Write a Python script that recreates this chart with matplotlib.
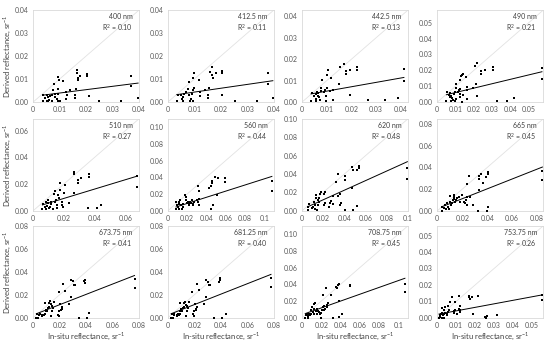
import numpy as np
import matplotlib
matplotlib.use("Agg")
import matplotlib.pyplot as plt
from matplotlib.ticker import FuncFormatter

plt.rcParams['font.family'] = ['Lato', 'DejaVu Sans']
plt.rcParams['mathtext.fontset'] = 'custom'
plt.rcParams['mathtext.rm'] = 'Lato'

# in-situ (x) vs derived (y) reflectance per band, sr^-1
x400 = [0.0036, 0.0038, 0.0044, 0.0051, 0.0051, 0.0057, 0.0057, 0.0061, 0.0063, 0.007, 0.007,
        0.0076, 0.0079, 0.0083, 0.0083, 0.0089, 0.0095, 0.0095, 0.0095, 0.0095, 0.0099, 0.0102,
        0.0114, 0.0123, 0.0124, 0.0127, 0.014, 0.0159, 0.0159, 0.0163, 0.0165, 0.0165, 0.0169,
        0.0171, 0.0178, 0.0203, 0.0203, 0.021, 0.0248, 0.0333, 0.0368, 0.0368, 0.0396]
y400 = [0.0007, 0.0029, 0.0019, 0.0029, 0.0007, 0.0022, 0.0003, 0.001, 0.0025, 0.0007, 0.0033,
        0.0051, 0.008, 0.0036, 0.0022, 0.0015, 0.0109, 0.0058, 0.0036, 0.0007, 0.0095, 0.0007,
        0.0092, 0.0044, 0.0015, 0.0029, 0.0051, 0.0029, 0.0019, 0.0058, 0.0138, 0.0127, 0.0106,
        0.0097, 0.0112, 0.0121, 0.0112, 0.0026, 0.0007, 0.0007, 0.0115, 0.007, 0.0017]

x412 = [0.0034, 0.0038, 0.005, 0.0054, 0.0056, 0.0063, 0.0059, 0.0069, 0.0075, 0.0079, 0.0081,
        0.0084, 0.0088, 0.0091, 0.0094, 0.0096, 0.0098, 0.0096, 0.0098, 0.0116, 0.0123, 0.0123,
        0.0141, 0.015, 0.0151, 0.0156, 0.0159, 0.0166, 0.0166, 0.0169, 0.0181, 0.0206, 0.0206,
        0.0206, 0.0254, 0.0338, 0.0379, 0.0379, 0.0396]
y412 = [0.0007, 0.0029, 0.0029, 0.0014, 0.0007, 0.0036, 0.0022, 0.0043, 0.0058, 0.0087, 0.0029,
        0.0007, 0.0014, 0.0036, 0.0007, 0.0053, 0.0062, 0.0105, 0.0126, 0.0098, 0.0043, 0.0025,
        0.0053, 0.0029, 0.0019, 0.0062, 0.0133, 0.0152, 0.0116, 0.0105, 0.0126, 0.0134, 0.0126,
        0.0029, 0.0007, 0.0007, 0.0127, 0.0079, 0.0019]

x442 = [0.0037, 0.004, 0.005, 0.0057, 0.0057, 0.0061, 0.0057, 0.0063, 0.0067, 0.007, 0.0073,
        0.0077, 0.0077, 0.0083, 0.009, 0.0092, 0.0096, 0.01, 0.0096, 0.01, 0.0106, 0.0114,
        0.0119, 0.0127, 0.0127, 0.0149, 0.0153, 0.0172, 0.018, 0.018, 0.0195, 0.0195, 0.0222,
        0.0222, 0.0268, 0.0338, 0.0388, 0.0413, 0.0413]
y442 = [0.0005, 0.0042, 0.0031, 0.0038, 0.0015, 0.0046, 0.0005, 0.0031, 0.0042, 0.0023, 0.0008,
        0.0066, 0.0051, 0.0103, 0.0046, 0.0057, 0.0031, 0.0065, 0.0005, 0.0128, 0.0151, 0.0051,
        0.0115, 0.0057, 0.0011, 0.0085, 0.0162, 0.018, 0.0146, 0.0131, 0.0034, 0.0151, 0.0162,
        0.0149, 0.0008, 0.0008, 0.0018, 0.0157, 0.01]

x490 = [0.005, 0.0054, 0.0065, 0.0068, 0.0072, 0.0077, 0.0077, 0.0083, 0.0086, 0.009, 0.0095,
        0.0095, 0.0101, 0.0101, 0.0104, 0.0113, 0.0119, 0.0122, 0.0122, 0.0126, 0.0126, 0.0131,
        0.0137, 0.014, 0.0137, 0.014, 0.0158, 0.0162, 0.0162, 0.0162, 0.0194, 0.0207, 0.0212,
        0.0218, 0.0218, 0.0239, 0.0239, 0.0263, 0.0302, 0.0302, 0.0324, 0.0383, 0.0419, 0.0572,
        0.0572]
y490 = [0.001, 0.0067, 0.0047, 0.0031, 0.0055, 0.0041, 0.001, 0.0027, 0.0014, 0.0051, 0.0067,
        0.001, 0.0088, 0.0112, 0.002, 0.0061, 0.0076, 0.0051, 0.0031, 0.0082, 0.0139, 0.0163,
        0.0173, 0.0178, 0.0004, 0.0047, 0.0157, 0.0096, 0.0076, 0.002, 0.0088, 0.0229, 0.0112,
        0.0245, 0.0041, 0.0198, 0.0178, 0.0204, 0.0224, 0.0204, 0.001, 0.001, 0.0027, 0.0214,
        0.0143]

x510 = [0.0061, 0.0066, 0.0076, 0.0083, 0.0087, 0.0092, 0.0098, 0.0098, 0.0105, 0.0109, 0.0114,
        0.012, 0.0127, 0.0135, 0.0142, 0.0142, 0.0148, 0.0153, 0.0157, 0.0164, 0.017, 0.0175,
        0.0175, 0.0186, 0.0186, 0.0192, 0.0207, 0.0203, 0.0236, 0.0266, 0.0266, 0.0266, 0.0295,
        0.0295, 0.031, 0.0367, 0.0367, 0.036, 0.0415, 0.0443, 0.0675, 0.0675]
y510 = [0.0015, 0.0049, 0.0032, 0.0068, 0.0015, 0.0039, 0.0056, 0.008, 0.002, 0.0032, 0.0049,
        0.0068, 0.0015, 0.0129, 0.0146, 0.0068, 0.0085, 0.0044, 0.002, 0.0117, 0.0098, 0.0207,
        0.0154, 0.0063, 0.0044, 0.0032, 0.0195, 0.0137, 0.0056, 0.0293, 0.0276, 0.0137, 0.0234,
        0.021, 0.0244, 0.0276, 0.0251, 0.002, 0.002, 0.0044, 0.0259, 0.0178]

x560 = [0.0086, 0.0086, 0.0093, 0.0103, 0.0114, 0.0121, 0.0121, 0.0131, 0.0138, 0.0148, 0.0155,
        0.0162, 0.0183, 0.019, 0.019, 0.0197, 0.0207, 0.0217, 0.0224, 0.0231, 0.0241, 0.0252,
        0.0259, 0.0266, 0.0276, 0.031, 0.0321, 0.03, 0.031, 0.0321, 0.0328, 0.0424, 0.0448,
        0.0459, 0.0459, 0.0448, 0.0472, 0.0493, 0.0517, 0.0507, 0.0597, 0.0597, 0.1079, 0.1079]
y560 = [0.0027, 0.0106, 0.0067, 0.0047, 0.0106, 0.0086, 0.002, 0.0125, 0.0067, 0.0027, 0.0047,
        0.0086, 0.0192, 0.0165, 0.0125, 0.0098, 0.0106, 0.0086, 0.0067, 0.0106, 0.0098, 0.0125,
        0.0067, 0.0086, 0.0106, 0.0294, 0.0243, 0.0125, 0.0106, 0.0067, 0.0145, 0.0275, 0.0302,
        0.0333, 0.0357, 0.002, 0.0067, 0.0408, 0.0388, 0.0192, 0.0388, 0.0349, 0.0361, 0.0243]

x620 = [0.0059, 0.0059, 0.0066, 0.0092, 0.0108, 0.0118, 0.0125, 0.0125, 0.0131, 0.0131, 0.0141,
        0.0151, 0.0151, 0.0157, 0.0164, 0.0174, 0.0184, 0.0207, 0.0216, 0.0207, 0.0216, 0.0256,
        0.0262, 0.0272, 0.0289, 0.0295, 0.0321, 0.0341, 0.0338, 0.0354, 0.0354, 0.037, 0.0403,
        0.0403, 0.0403, 0.0469, 0.0479, 0.0472, 0.0479, 0.0518, 0.0534, 0.0534, 0.0518, 0.0993,
        0.0993]
y620 = [0.0011, 0.0047, 0.0072, 0.0029, 0.0047, 0.0101, 0.0065, 0.0022, 0.0137, 0.0173, 0.0011,
        0.0065, 0.0119, 0.0144, 0.0101, 0.018, 0.0201, 0.018, 0.0201, 0.0065, 0.0083, 0.0047,
        0.0083, 0.0108, 0.0165, 0.0072, 0.0317, 0.0399, 0.0165, 0.018, 0.0065, 0.0083, 0.0335,
        0.0381, 0.0011, 0.0478, 0.0442, 0.0252, 0.0011, 0.0442, 0.0468, 0.0489, 0.0058, 0.0468,
        0.0345]

x665 = [0.0039, 0.0039, 0.0053, 0.0066, 0.0074, 0.0079, 0.0084, 0.0092, 0.01, 0.0105, 0.0111,
        0.0118, 0.0126, 0.0132, 0.0132, 0.0137, 0.0145, 0.0153, 0.0158, 0.0171, 0.0184, 0.0197,
        0.0216, 0.0224, 0.0232, 0.0237, 0.0242, 0.0242, 0.0258, 0.0263, 0.0284, 0.0329, 0.0337,
        0.0337, 0.0347, 0.0337, 0.0363, 0.0389, 0.0408, 0.0408, 0.0395, 0.0408, 0.0842, 0.0842]
y665 = [0.0, 0.0039, 0.0024, 0.0054, 0.0018, 0.0069, 0.0039, 0.0018, 0.0137, 0.0084, 0.0054,
        0.0069, 0.0099, 0.0113, 0.0149, 0.0128, 0.0084, 0.0099, 0.0119, 0.0128, 0.0084, 0.0143,
        0.0084, 0.0069, 0.0099, 0.0054, 0.0128, 0.0248, 0.0322, 0.0128, 0.0054, 0.0, 0.0293,
        0.0322, 0.0337, 0.0197, 0.0257, 0.0316, 0.0358, 0.0337, 0.0, 0.0039, 0.0367, 0.0287]

x673 = [0.0025, 0.0033, 0.004, 0.0045, 0.005, 0.007, 0.007, 0.0075, 0.0083, 0.009, 0.009,
        0.0095, 0.01, 0.0108, 0.0115, 0.012, 0.012, 0.0125, 0.0133, 0.0133, 0.014, 0.0145,
        0.015, 0.0158, 0.019, 0.0195, 0.0195, 0.02, 0.0208, 0.0215, 0.022, 0.0195, 0.0225,
        0.024, 0.027, 0.0283, 0.029, 0.03, 0.0308, 0.032, 0.0345, 0.0383, 0.039, 0.039, 0.0408,
        0.0425, 0.0765, 0.0765]
y673 = [0.0, 0.0035, 0.0, 0.0023, 0.0035, 0.0029, 0.0014, 0.0029, 0.0023, 0.0035, 0.013,
        0.0058, 0.0072, 0.0058, 0.0087, 0.0092, 0.013, 0.0144, 0.0116, 0.0014, 0.0058, 0.0101,
        0.0087, 0.0139, 0.0029, 0.0058, 0.0014, 0.0116, 0.0072, 0.0078, 0.0092, 0.0222, 0.0295,
        0.0237, 0.0116, 0.0182, 0.0332, 0.0318, 0.0283, 0.0283, 0.0, 0.0318, 0.0326, 0.0303, 0.0,
        0.0038, 0.0338, 0.026]

x681 = [0.0025, 0.0032, 0.0038, 0.0045, 0.005, 0.0068, 0.0072, 0.0078, 0.0085, 0.009, 0.0092,
        0.0096, 0.0102, 0.011, 0.0116, 0.0122, 0.0121, 0.0127, 0.0134, 0.0135, 0.0142, 0.0147,
        0.0152, 0.016, 0.0192, 0.0196, 0.0198, 0.0202, 0.021, 0.0216, 0.0222, 0.0181, 0.0219,
        0.0239, 0.0272, 0.0286, 0.0292, 0.0302, 0.031, 0.0322, 0.0348, 0.0385, 0.0393, 0.0393,
        0.041, 0.0437, 0.0778, 0.0778]
y681 = [0.0, 0.0033, 0.0003, 0.0022, 0.0036, 0.0028, 0.0013, 0.0031, 0.0022, 0.0034, 0.0128,
        0.0057, 0.0074, 0.0056, 0.0089, 0.0094, 0.0132, 0.0141, 0.0114, 0.0015, 0.0057, 0.0103,
        0.0085, 0.0137, 0.003, 0.0056, 0.0012, 0.0118, 0.0071, 0.0079, 0.0094, 0.0225, 0.0298,
        0.0239, 0.0118, 0.0185, 0.0327, 0.0315, 0.0285, 0.0281, 0.0, 0.0315, 0.0342, 0.0332, 0.0,
        0.0035, 0.0342, 0.0269]

x708 = [0.0034, 0.0044, 0.0054, 0.006, 0.0067, 0.0077, 0.0087, 0.0094, 0.0094, 0.0101, 0.0111,
        0.0121, 0.0121, 0.0128, 0.0134, 0.0144, 0.0154, 0.0161, 0.0168, 0.0178, 0.0188, 0.0195,
        0.0201, 0.0211, 0.0221, 0.0228, 0.0228, 0.0235, 0.0221, 0.0245, 0.0255, 0.0262, 0.0268,
        0.0302, 0.0322, 0.0356, 0.0362, 0.0369, 0.0379, 0.0389, 0.0389, 0.0413, 0.0503, 0.0503,
        0.1067, 0.1067]
y708 = [0.0, 0.0032, 0.0051, 0.002, 0.0004, 0.0051, 0.0032, 0.0051, 0.0091, 0.013, 0.0071,
        0.0051, 0.0162, 0.0111, 0.0178, 0.0083, 0.0111, 0.0051, 0.0083, 0.0071, 0.0051, 0.0,
        0.0059, 0.0091, 0.013, 0.0138, 0.0091, 0.0111, 0.0269, 0.036, 0.015, 0.013, 0.0178,
        0.0269, 0.0004, 0.0368, 0.0356, 0.0387, 0.0407, 0.0202, 0.0012, 0.0051, 0.0387, 0.0375,
        0.0399, 0.0308]

x753 = [0.0009, 0.0014, 0.0017, 0.0021, 0.0026, 0.0026, 0.0031, 0.0035, 0.0035, 0.0038, 0.0043,
        0.0049, 0.0052, 0.0056, 0.0061, 0.0026, 0.0043, 0.0056, 0.0069, 0.0078, 0.0087, 0.009,
        0.0095, 0.0104, 0.0113, 0.0118, 0.0122, 0.0095, 0.0113, 0.0118, 0.0165, 0.017, 0.0174,
        0.0182, 0.0191, 0.0217, 0.0252, 0.0257, 0.026, 0.0316, 0.0553, 0.0553]
y753 = [0.0, 0.0006, 0.0016, 0.0025, 0.0002, 0.0029, 0.0016, 0.0025, 0.0002, 0.0045, 0.0029,
        0.0016, 0.0025, 0.0035, 0.0045, 0.0061, 0.0065, 0.0075, 0.0094, 0.0124, 0.0041, 0.0029,
        0.0049, 0.0025, 0.0055, 0.0045, 0.0035, 0.0094, 0.0133, 0.0075, 0.0124, 0.0133, 0.0114,
        0.0127, 0.0022, 0.0133, 0.0006, 0.0002, 0.001, 0.0016, 0.0137, 0.011]

bands = ['400 nm', '412.5 nm', '442.5 nm', '490 nm', '510 nm', '560 nm',
         '620 nm', '665 nm', '673.75 nm', '681.25 nm', '708.75 nm', '753.75 nm']
r2 = ['0.10', '0.11', '0.13', '0.21', '0.27', '0.44', '0.48', '0.45', '0.41', '0.40', '0.45', '0.26']
slopes = [0.146, 0.167, 0.204, 0.277, 0.35, 0.367, 0.521, 0.455, 0.449, 0.454, 0.408, 0.214]
intercepts = [0.0025, 0.0027, 0.0031, 0.0033, 0.0023, 0.0015, 0.0016, 0.0021, 0.0024, 0.0024, 0.0037, 0.0021]
axis_max = [0.04, 0.04, 0.043, 0.058, 0.069, 0.11, 0.1, 0.085, 0.08, 0.08, 0.11, 0.056]
tick_step = [0.01, 0.01, 0.01, 0.01, 0.02, 0.02, 0.02, 0.02, 0.02, 0.02, 0.02, 0.01]
xs = [x400, x412, x442, x490, x510, x560, x620, x665, x673, x681, x708, x753]
ys = [y400, y412, y442, y490, y510, y560, y620, y665, y673, y681, y708, y753]

fig = plt.figure(figsize=(5.5, 3.44), dpi=100)
lefts = [0.060, 0.305, 0.549, 0.795]
bottoms = [0.703, 0.387, 0.076]
w, h = 0.193, 0.268

txt = '#404040'
for i in range(12):
    r, c = divmod(i, 4)
    ax = fig.add_axes([lefts[c], bottoms[r], w, h])
    lim = axis_max[i]
    ax.set_xlim(0, lim)
    ax.set_ylim(0, lim)
    ax.plot([0, lim], [0, lim], color='#e2e2e2', lw=0.6, zorder=1)
    x = np.array(xs[i])
    y = np.array(ys[i])
    ax.scatter(x, y, s=3.2, marker='s', color='black', linewidths=0, zorder=3)
    xl = np.array([x.min(), x.max()])
    ax.plot(xl, slopes[i] * xl + intercepts[i], color='black', lw=0.7, zorder=2)
    ticks = np.arange(0, lim + 1e-9, tick_step[i])
    ax.set_xticks(ticks)
    ax.set_yticks(ticks)
    ax.xaxis.set_major_formatter(FuncFormatter(lambda v, _: f"{v:g}"))
    ax.yaxis.set_major_formatter(FuncFormatter(lambda v, _: f"{v:.2f}"))
    ax.tick_params(length=0, labelsize=5, colors='#595959', pad=3)
    for s in ax.spines.values():
        s.set_color('#d9d9d9')
        s.set_linewidth(0.6)
    ax.text(0.94, 0.93, bands[i], transform=ax.transAxes, ha='right', va='center',
            fontsize=5, color=txt)
    ax.text(0.94, 0.81, f"R$^2$ = {r2[i]}", transform=ax.transAxes, ha='right', va='center',
            fontsize=5, color=txt)
    if c == 0:
        ax.set_ylabel('Derived reflectance, sr$^{-1}$', fontsize=5.5, color=txt, labelpad=1.5)
    if r == 2:
        ax.set_xlabel('In-situ reflectance, sr$^{-1}$', fontsize=5.5, color=txt, labelpad=1)

fig.savefig('out.png', dpi=100)
